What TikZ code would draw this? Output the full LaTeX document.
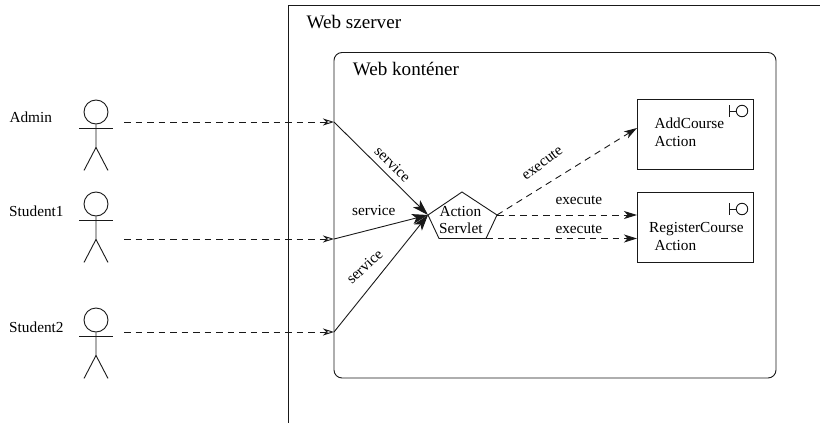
\documentclass[tikz,border=0pt]{standalone}
\usepackage{fontspec}
\setmainfont{Liberation Serif}
\usetikzlibrary{arrows.meta,calc}
\tikzset{
  ln/.style={line width=0.9pt,black!90},
  lbl/.style={inner sep=0pt,anchor=base west,font=\fontsize{15.3}{18}\selectfont},
  big/.style={inner sep=0pt,anchor=base west,font=\fontsize{19.1}{22}\selectfont},
  rot/.style={inner sep=0pt,anchor=center,font=\fontsize{15.3}{18}\selectfont},
  boxnode/.style={ln,draw,inner sep=0pt,minimum width=116pt,minimum height=70pt},
  solidarrow/.style={ln,-{Stealth[length=16pt,width=10pt,inset=4pt]}},
  dasharrow/.style={ln,dash pattern=on 6.5pt off 5pt,-{Stealth[length=13pt,width=8pt,inset=3.5pt]}},
  openarrow/.style={ln,dash pattern=on 6.5pt off 5pt,-{Stealth[length=11pt,width=7pt,inset=3.5pt,open]}},
  actorhead/.style={ln,draw,circle,inner sep=0pt,minimum size=24pt},
}
\newcommand{\actorfig}[3]{% name, center x, head y
  \node[actorhead] (#1) at (#2,#3) {};
  \draw[ln] (#1.south) -- ++(0,23) coordinate (#1hip) -- ++(-12,23);
  \draw[ln] (#1hip) -- ++(12,23);
  \draw[ln] ($(#1.center)+(-17,16.5)$) -- ($(#1.center)+(17,16.5)$);
}
\newcommand{\ifacemark}[3]{% name, circle x, y
  \node[ln,draw,circle,inner sep=0pt,minimum size=11.5pt] (#1) at (#2,#3) {};
  \draw[ln] (#1.west) -- ++(-6.5,0) coordinate (#1b);
  \draw[ln] ($(#1b)+(0,-6)$) -- ($(#1b)+(0,6)$);
}
\begin{document}
\begin{tikzpicture}[x=1pt,y=-1pt]
\useasboundingbox (0,0) rectangle (820,423);
% server frame
\coordinate (srvTL) at (288,5.5);
\coordinate (srvB) at (288,423);
\coordinate (srvR) at (820,5.5);
\draw[ln] (srvB) -- (srvTL) -- (srvR);
\node[big] (srvlabel) at (306.5,28) {Web szerver};
% container
\coordinate (contTL) at (334,52.5);
\coordinate (contBR) at (776,378);
\draw[ln,rounded corners=8pt] (contTL) rectangle (contBR);
\node[big] (contlabel) at (352.7,75) {Web konténer};
% actors
\actorfig{admin}{96}{112}
\actorfig{stuA}{96}{204}
\actorfig{stuB}{96}{320}
\node[lbl] (adminl) at (9.3,122) {Admin};
\node[lbl] (stuAl) at (9,216) {Student1};
\node[lbl] (stuBl) at (9,332) {Student2};
% servlet pentagon
\coordinate (pT) at (462,192);
\coordinate (pR) at (497,215);
\coordinate (pBR) at (486,238.5);
\coordinate (pBL) at (439,238.5);
\coordinate (pL) at (428,215);
\draw[ln] (pT) -- (pR) -- (pBR) -- (pBL) -- (pL) -- cycle;
\node[lbl] (acttxt) at (439.3,216) {Action};
\node[lbl] (sertxt) at (439,233) {Servlet};
% boxes
\node[boxnode] (addbox) at (695,134) {};
\node[boxnode] (regbox) at (695,227) {};
\node[lbl] (addt1) at (654.3,128) {AddCourse};
\node[lbl] (addt2) at (654.3,146) {Action};
\node[lbl] (regt1) at (649,232.7) {RegisterCourse};
\node[lbl] (regt2) at (654.3,250) {Action};
\ifacemark{ifA}{742}{111}
\ifacemark{ifB}{742}{209}
% entry points
\coordinate (eA) at (334,122);
\coordinate (eB) at (334,239);
\coordinate (eC) at (334,332);
\coordinate (sA) at (124,122);
\coordinate (sB) at (124,239);
\coordinate (sC) at (124,332);
\draw[openarrow] (sA) -- (eA);
\draw[openarrow] (sB) -- (eB);
\draw[openarrow] (sC) -- (eC);
\draw[solidarrow] (eA) -- (pL);
\draw[solidarrow] (eB) -- (pL);
\draw[solidarrow] (eC) -- (pL);
\node[rot,rotate=-44] (svc1) at (392.7,164.3) {service};
\node[lbl] (svc2) at (352,215.7) {service};
\node[rot,rotate=43] (svc3) at (364.5,266.5) {service};
% execute
\coordinate (tA) at (637,128);
\coordinate (tB) at (637,215);
\coordinate (tC) at (637,238.5);
\draw[dasharrow] (pR) -- (tA);
\draw[dasharrow] (pR) -- (tB);
\draw[dasharrow] (pBR) -- (tC);
\node[rot,rotate=37] (ex1) at (542.3,163.3) {execute};
\node[lbl] (ex2) at (555.3,204) {execute};
\node[lbl] (ex3) at (555.3,233) {execute};
\end{tikzpicture}
\end{document}
